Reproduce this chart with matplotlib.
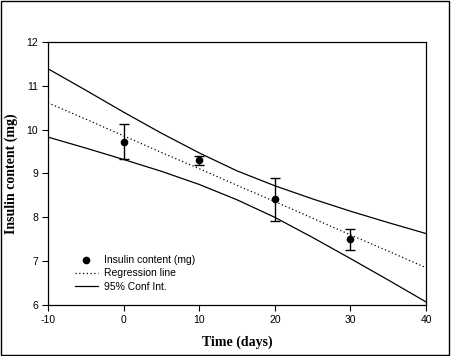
import matplotlib.pyplot as plt
from matplotlib.lines import Line2D
from matplotlib.patches import Rectangle

# measured points
days = [0, 10, 20, 30]
insulin = [9.73, 9.30, 8.41, 7.50]
insulin_err = [0.40, 0.11, 0.49, 0.24]

# regression line and 95% confidence band
x_fit = [-10, -5, 0, 5, 10, 15, 20, 25, 30, 35, 40]
reg_line = [10.61, 10.24, 9.86, 9.48, 9.11, 8.73, 8.36, 7.98, 7.60, 7.23, 6.85]
ci_upper = [11.39, 10.90, 10.40, 9.92, 9.47, 9.06, 8.72, 8.42, 8.14, 7.88, 7.63]
ci_lower = [9.83, 9.58, 9.32, 9.05, 8.75, 8.40, 8.00, 7.54, 7.06, 6.57, 6.07]

plt.rcParams["font.family"] = ["Liberation Sans", "DejaVu Sans"]
plt.rcParams["axes.unicode_minus"] = False

fig = plt.figure(figsize=(4.51, 3.56), dpi=100)
ax = fig.add_axes([0.1064, 0.1433, 0.8382, 0.7387])

ax.errorbar(days, insulin, yerr=insulin_err, fmt="o", color="black",
            markersize=4.5, capsize=3.5, elinewidth=1, capthick=1, zorder=3)
ax.plot(x_fit, reg_line, color="black", linestyle=(0, (1, 2)), linewidth=0.9)
ax.plot(x_fit, ci_upper, color="black", linewidth=0.9)
ax.plot(x_fit, ci_lower, color="black", linewidth=0.9)

ax.set_xlim(-10, 40)
ax.set_ylim(6, 12)
ax.set_xticks([-10, 0, 10, 20, 30, 40])
ax.set_yticks([6, 7, 8, 9, 10, 11, 12])
ax.tick_params(direction="out", length=4, width=0.8, labelsize=7.5,
               top=False, right=False, pad=3)
for s in ax.spines.values():
    s.set_linewidth(0.9)

ax.set_xlabel("Time (days)", family="Liberation Serif", fontweight="bold",
              fontsize=10, labelpad=8)
ax.set_ylabel("Insulin content (mg)", family="Liberation Serif", fontweight="bold",
              fontsize=10, labelpad=6)

handles = [
    Line2D([], [], marker="o", linestyle="none", color="black", markersize=4.5),
    Line2D([], [], color="black", linestyle=(0, (1, 2)), linewidth=0.9),
    Line2D([], [], color="black", linewidth=0.9),
]
labels = ["Insulin content (mg)", "Regression line", "95% Conf Int."]
ax.legend(handles, labels, loc="lower left", bbox_to_anchor=(0.06, 0.035),
          frameon=False, fontsize=7.5, handlelength=2.2, handletextpad=0.6,
          labelspacing=0.3, borderaxespad=0)

# outer frame around the whole picture
fig.patches.append(Rectangle((0.002, 0.004), 0.994, 0.992, transform=fig.transFigure,
                             fill=False, edgecolor="black", linewidth=1))

fig.savefig("out.png", dpi=100)
